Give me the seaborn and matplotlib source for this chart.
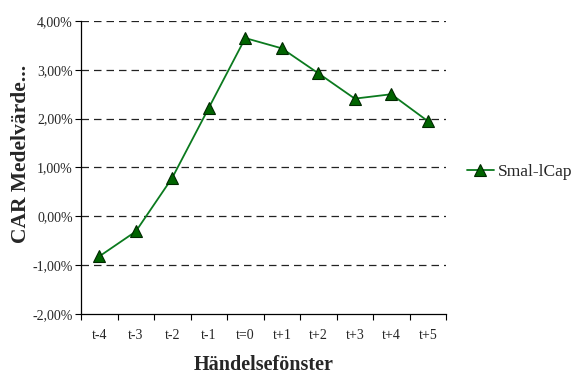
import matplotlib
matplotlib.use("Agg")
import matplotlib.pyplot as plt
from matplotlib.ticker import FuncFormatter, FixedLocator
import seaborn as sns
import pandas as pd

# Event window and mean cumulative abnormal return (in %)
windows = ["t-4", "t-3", "t-2", "t-1", "t=0", "t+1", "t+2", "t+3", "t+4", "t+5"]
car_small_cap = [-0.82, -0.31, 0.79, 2.22, 3.65, 3.44, 2.93, 2.41, 2.50, 1.95]
y_ticks = [-2, -1, 0, 1, 2, 3, 4]
series_name = "Smal-lCap"

df = pd.DataFrame({"window": windows, "car": car_small_cap})

sns.set_theme(style="white")
plt.rcParams["font.family"] = ["Liberation Serif", "DejaVu Serif"]

fig = plt.figure(figsize=(5.75, 3.74), dpi=100)
ax = fig.add_axes([0.1409, 0.1604, 0.6348, 0.7835])

sns.lineplot(data=df, x="window", y="car", ax=ax, color="#0b7a1e", linewidth=1.3,
             marker="^", markersize=8, markerfacecolor="#006400",
             markeredgecolor="#002800", markeredgewidth=0.8, label=series_name,
             legend=False)

ax.set_xlim(-0.5, len(windows) - 0.5)
ax.set_ylim(min(y_ticks), max(y_ticks))

# dashed horizontal gridlines
for v in y_ticks[1:]:
    ax.axhline(v, color="#222222", linestyle=(0, (6, 4)), linewidth=0.9, zorder=0)

ax.yaxis.set_major_locator(FixedLocator(y_ticks))
ax.yaxis.set_major_formatter(FuncFormatter(lambda v, p: f"{v:.2f}%".replace(".", ",")))
ax.tick_params(axis="y", which="major", length=4, width=0.8, direction="out",
               color="black", labelsize=10, pad=2, left=True)

# category labels centred, tick marks between categories
ax.set_xticks(range(len(windows)))
ax.set_xticklabels(windows)
ax.tick_params(axis="x", which="major", length=0, labelsize=10, pad=11)
ax.set_xticks([i - 0.5 for i in range(len(windows) + 1)], minor=True)
ax.tick_params(axis="x", which="minor", length=4, width=0.8, direction="out",
               color="black", bottom=True)

for s in ["top", "right"]:
    ax.spines[s].set_visible(False)
for s in ["left", "bottom"]:
    ax.spines[s].set_color("black")
    ax.spines[s].set_linewidth(0.9)

ax.set_xlabel("Händelsefönster", fontsize=14.5, fontweight="bold", labelpad=9)
ax.set_ylabel("CAR Medelvärde...", fontsize=15.5, fontweight="bold")
ax.yaxis.set_label_coords(-0.136, 0.546)

handles, labels = ax.get_legend_handles_labels()
fig.legend(handles, labels, loc="center left", bbox_to_anchor=(0.812, 0.54),
           frameon=False, fontsize=12.5, handlelength=1.55, handletextpad=0.25,
           borderpad=0, borderaxespad=0)

fig.savefig("out.png", dpi=100)
